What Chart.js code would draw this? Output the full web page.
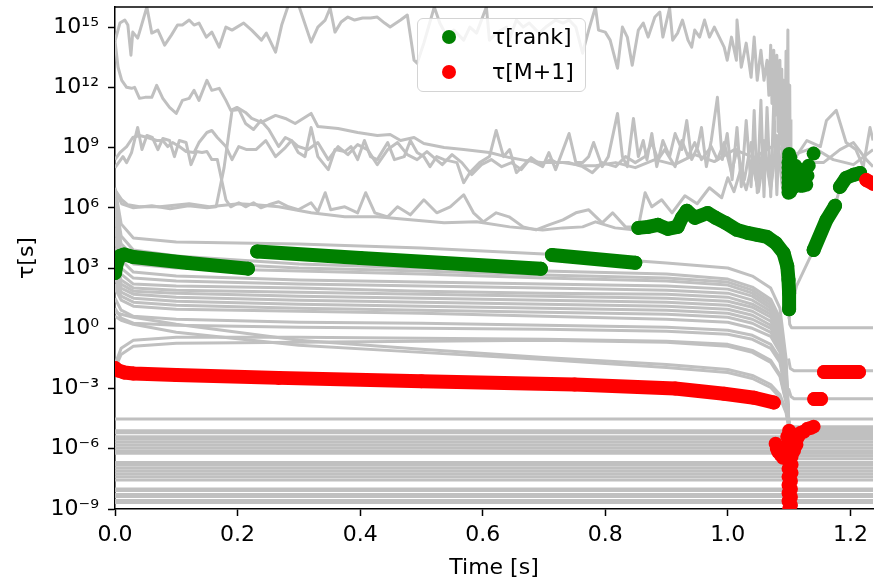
<!DOCTYPE html>
<html lang="en">
<head>
  <meta charset="UTF-8" />
  <title>Timescales vs time</title>
  <script src="https://cdn.jsdelivr.net/npm/chart.js"></script>
  <style>
    body {
      margin: 0;
      background: #fff;
      font-family: "DejaVu Sans", sans-serif;
    }
    #marco {
      position: relative;
      width: 880px;
      height: 579px;
    }
    #leyenda {
      position: absolute;
      left: 417px;
      top: 18px;
      width: 169px;
      height: 74px;
      box-sizing: border-box;
      border: 1px solid #d4d4d4;
      border-radius: 6px;
      background: rgba(255, 255, 255, 0.8);
    }
    .punto {
      position: absolute;
      left: 24px;
      width: 14px;
      height: 14px;
      border-radius: 50%;
    }
    .texto {
      position: absolute;
      left: 74px;
      font-size: 22px;
      line-height: 26px;
      color: #000;
      white-space: nowrap;
    }
  </style>
</head>
<body>
  <div id="marco">
    <canvas id="grafica" width="880" height="579"></canvas>
    <div id="leyenda">
      <span class="punto" style="top:11px;background:#008000"></span>
      <span class="texto" style="top:5px">τ[rank]</span>
      <span class="punto" style="top:46px;background:#ff0000"></span>
      <span class="texto" style="top:40px">τ[M+1]</span>
    </div>
  </div>

  <script>
    // every tau value below is stored as its exponent (log10 of tau in s)
    const xTicks = [0, 0.2, 0.4, 0.6, 0.8, 1.0, 1.2];
    const yTickExp = [-9, -6, -3, 0, 3, 6, 9, 12, 15];

    // smooth modes on a shared time grid, all collapse at t = 1.1
    const modeTime = [0, 0.01, 0.03, 0.1, 0.3, 0.5, 0.7, 0.9, 1.0, 1.04, 1.07, 1.085, 1.095, 1.1];
    const modeExp = [
      [7.0, 5.2, 4.5, 4.3, 4.2, 4.0, 3.7, 3.25, 3.0, 2.6, 2.0, 1.0, -1.5, -5.0],
      [6.5, 4.6, 3.9, 3.6, 3.2, 3.0, 2.85, 2.7, 2.45, 2.05, 1.45, 0.5, -1.8, -5.0],
      [6.0, 4.2, 3.6, 3.3, 3.0, 2.85, 2.65, 2.5, 2.3, 1.9, 1.3, 0.3, -2.0, -5.0],
      [5.5, 3.8, 3.2, 3.0, 2.85, 2.7, 2.5, 2.35, 2.15, 1.75, 1.15, 0.2, -2.1, -5.0],
      [5.0, 3.4, 2.8, 2.6, 2.4, 2.3, 2.2, 2.1, 1.95, 1.6, 1.0, 0.1, -2.2, -5.0],
      [4.5, 3.0, 2.5, 2.35, 2.2, 2.1, 2.0, 1.9, 1.75, 1.4, 0.85, -0.05, -2.3, -5.0],
      [4.0, 2.7, 2.2, 2.1, 2.0, 1.85, 1.75, 1.7, 1.55, 1.2, 0.7, -0.2, -2.4, -5.0],
      [3.5, 2.4, 2.0, 1.9, 1.8, 1.7, 1.6, 1.5, 1.35, 1.05, 0.55, -0.35, -2.5, -5.0],
      [3.0, 2.2, 1.85, 1.75, 1.6, 1.5, 1.4, 1.3, 1.15, 0.85, 0.35, -0.5, -2.6, -5.0],
      [2.8, 2.0, 1.7, 1.55, 1.4, 1.3, 1.2, 1.1, 0.95, 0.65, 0.15, -0.65, -2.7, -5.0],
      [2.5, 1.8, 1.5, 1.35, 1.2, 1.1, 1.0, 0.9, 0.75, 0.45, 0.0, -0.8, -2.8, -5.0],
      [2.2, 1.6, 1.3, 1.15, 1.0, 0.9, 0.8, 0.7, 0.55, 0.25, -0.2, -1.0, -2.9, -5.0],
      [2.0, 1.4, 1.1, 0.95, 0.85, 0.75, 0.6, 0.45, 0.3, 0.0, -0.4, -1.2, -3.0, -5.0],
      [1.5, 0.9, 0.6, 0.45, 0.3, 0.25, 0.15, 0.05, -0.1, -0.35, -0.8, -1.5, -3.2, -5.0],
      [1.0, 0.5, 0.25, 0.15, 0.05, 0.0, -0.05, -0.15, -0.3, -0.55, -1.0, -1.7, -3.3, -5.0],
      [0.8, 0.7, 0.55, 0.2, -0.6, -1.05, -1.45, -1.8, -2.05, -2.35, -2.8, -3.3, -4.1, -5.0],
      [0.6, 0.4, 0.2, -0.2, -0.85, -1.2, -1.55, -1.95, -2.2, -2.5, -2.95, -3.45, -4.2, -5.0],
      [-1.8, -1.0, -0.6, -0.45, -0.45, -0.5, -0.55, -0.65, -0.8, -1.1, -1.6, -2.3, -3.6, -5.0],
      [-2.0, -1.3, -0.9, -0.75, -0.7, -0.65, -0.6, -0.7, -0.9, -1.2, -1.7, -2.4, -3.7, -5.0]
    ];

    // fast modes, flat over the whole run
    const flatExp = [-4.52, -5.1, -5.2, -5.4, -5.5, -5.65, -5.8, -5.95, -6.1, -6.22, -6.68, -6.78,
                     -6.95, -7.1, -7.25, -7.4, -7.55, -8.0, -8.08, -8.28, -8.38, -8.58, -8.68];
    // extra flat modes that only exist after the jump at t = 1.1
    const lateFlatExp = [-4.9, -5.0, -5.3, -6.35, -6.5];

    // modes leaving the collapse at t = 1.1 to the right, [t, exponent]
    const lateOne = [[1.099, 1.0], [1.101, 0.2], [1.104, 0.03], [1.237, 0.03]];
    const lateTwo = [[1.099, -1.5], [1.102, -2.0], [1.108, -2.12], [1.237, -2.12]];
    const lateThree = [[1.099, -3.0], [1.103, -3.4], [1.108, -3.51], [1.237, -3.51]];

    // noisy slow modes, [t, exponent]
    const topTrace = [[0, 14.3], [0.008, 15.2], [0.016, 15.35], [0.021, 15.1], [0.026, 13.6], [0.029, 14.75],
      [0.037, 14.45], [0.040, 14.75], [0.052, 16.0], [0.060, 14.7], [0.070, 14.85], [0.081, 14.1], [0.092, 14.6],
      [0.102, 15.1], [0.110, 15.1], [0.121, 15.35], [0.129, 15.1], [0.137, 15.2], [0.149, 14.5], [0.158, 14.75],
      [0.170, 14.0], [0.181, 15.0], [0.191, 14.85], [0.210, 15.2], [0.223, 14.85], [0.239, 14.35], [0.247, 14.7],
      [0.262, 13.75], [0.272, 15.1], [0.283, 16.1], [0.299, 16.15], [0.320, 14.25], [0.331, 15.0], [0.343, 15.35],
      [0.351, 15.95], [0.359, 14.75], [0.369, 15.25], [0.380, 15.5], [0.391, 15.35], [0.404, 15.45], [0.417, 15.45],
      [0.428, 15.5], [0.440, 15.2], [0.449, 15.0], [0.466, 15.35], [0.477, 15.6], [0.488, 13.35], [0.493, 13.2],
      [0.504, 14.2], [0.521, 16.0], [0.530, 15.2], [0.542, 14.5], [0.553, 14.85], [0.569, 14.35], [0.579, 15.0],
      [0.590, 14.7], [0.606, 16.0], [0.611, 14.35], [0.622, 14.7], [0.639, 15.0], [0.643, 14.35], [0.655, 15.35],
      [0.666, 15.0], [0.676, 15.2], [0.692, 14.7], [0.703, 15.0], [0.719, 15.35], [0.731, 15.2], [0.741, 15.35],
      [0.752, 15.0], [0.763, 13.7], [0.773, 14.85], [0.784, 16.0], [0.789, 14.85], [0.800, 14.75], [0.808, 14.35],
      [0.820, 12.95], [0.828, 15.0], [0.836, 14.5], [0.844, 13.1], [0.854, 14.85], [0.862, 15.2], [0.870, 14.5],
      [0.881, 15.5], [0.889, 15.75], [0.894, 14.5], [0.905, 15.95], [0.910, 14.35], [0.918, 14.7], [0.926, 15.35],
      [0.935, 14.35], [0.941, 14.0], [0.946, 14.85], [0.954, 14.5], [0.962, 15.35], [0.970, 14.5], [0.978, 15.0],
      [0.986, 14.5], [0.994, 14.0], [0.999, 13.35], [1.006, 14.5], [1.014, 13.35], [1.015, 15.35], [1.022, 13.0],
      [1.030, 14.2], [1.038, 12.5], [1.043, 14.5], [1.048, 12.35], [1.054, 13.85], [1.059, 12.35], [1.064, 13.35],
      [1.067, 11.6], [1.070, 14.1], [1.072, 11.2], [1.075, 13.85], [1.077, 10.6], [1.080, 13.6], [1.082, 9.8],
      [1.085, 13.35], [1.087, 9.2], [1.088, 12.9], [1.090, 8.6], [1.091, 12.35], [1.093, 8.2], [1.095, 13.8],
      [1.096, 7.6], [1.098, 14.85], [1.099, 7.2], [1.101, 12.1], [1.102, 6.9], [1.103, 10.4]];

    const secondTrace = [[0, 14.3], [0.005, 13.0], [0.011, 12.35], [0.019, 12.0], [0.027, 11.95], [0.032, 12.0],
      [0.040, 11.45], [0.049, 11.5], [0.060, 11.5], [0.068, 12.1], [0.078, 11.45], [0.089, 11.0], [0.100, 10.7],
      [0.110, 11.35], [0.121, 11.45], [0.129, 11.85], [0.137, 11.35], [0.150, 12.35], [0.158, 11.85], [0.170, 11.95],
      [0.181, 11.35], [0.189, 10.85], [0.199, 11.0], [0.213, 10.75], [0.223, 10.45], [0.239, 10.25], [0.262, 10.6],
      [0.278, 10.45], [0.294, 10.2], [0.307, 10.45], [0.320, 10.7], [0.331, 10.05], [0.364, 9.95], [0.396, 9.75],
      [0.428, 9.6], [0.449, 9.65], [0.466, 9.35], [0.488, 9.5], [0.504, 9.2], [0.537, 9.0], [0.569, 8.9],
      [0.611, 8.75], [0.644, 8.5], [0.671, 8.35], [0.698, 8.25], [0.731, 8.25], [0.763, 8.1], [0.784, 8.1],
      [0.817, 8.25], [0.849, 8.0], [0.881, 8.4], [0.913, 8.15], [0.946, 8.65], [0.978, 8.3], [1.011, 8.9],
      [1.043, 8.5], [1.075, 9.1], [1.108, 8.65], [1.140, 9.0], [1.172, 8.4], [1.205, 8.15], [1.237, 8.9]];

    const dropTrace = [[0, 8.0], [0.013, 8.55], [0.019, 8.25], [0.027, 8.75], [0.037, 10.0], [0.044, 8.9],
      [0.052, 9.6], [0.061, 9.5], [0.070, 8.9], [0.078, 9.45], [0.089, 9.35], [0.097, 8.55], [0.105, 9.35],
      [0.116, 9.25], [0.124, 8.15], [0.133, 8.8], [0.142, 8.75], [0.150, 8.8], [0.158, 8.4], [0.167, 8.4],
      [0.175, 7.25], [0.181, 6.4], [0.189, 6.05], [0.202, 6.25], [0.213, 6.05], [0.226, 6.25], [0.238, 6.0],
      [0.251, 6.15], [0.267, 6.3], [0.283, 6.05], [0.299, 5.9], [0.320, 6.25], [0.331, 5.8], [0.343, 6.75],
      [0.352, 5.9], [0.375, 6.05], [0.396, 5.75], [0.409, 6.75], [0.424, 5.75], [0.445, 5.55], [0.461, 6.05],
      [0.482, 5.65], [0.504, 6.4], [0.525, 5.75], [0.547, 6.05], [0.569, 6.65], [0.585, 5.75], [0.601, 5.3],
      [0.622, 5.75], [0.643, 5.55], [0.666, 5.05], [0.687, 4.9], [0.708, 5.15], [0.731, 5.4], [0.752, 5.75],
      [0.773, 5.9], [0.795, 5.25], [0.812, 5.75], [0.833, 5.05], [0.854, 5.05], [0.865, 6.75], [0.876, 6.05],
      [0.892, 6.4], [0.909, 5.75], [0.930, 6.6], [0.950, 6.2], [0.970, 7.0], [0.990, 6.5], [1.000, 7.5],
      [1.010, 6.8], [1.020, 7.8], [1.030, 6.9], [1.040, 8.2], [1.050, 6.8], [1.060, 8.8], [1.070, 6.9],
      [1.080, 9.5], [1.090, 6.8], [1.100, 8.5]];

    const riseTrace = [[0, 6.9], [0.011, 6.2], [0.03, 6.0], [0.06, 6.1], [0.09, 5.95], [0.12, 6.1], [0.15, 6.0],
      [0.165, 6.05], [0.178, 8.0], [0.191, 10.85], [0.202, 10.9], [0.213, 10.2], [0.226, 9.9], [0.238, 10.35],
      [0.251, 9.9], [0.267, 9.05], [0.278, 9.5], [0.288, 9.35], [0.299, 8.75], [0.310, 8.55], [0.320, 10.0],
      [0.331, 8.55], [0.348, 7.9], [0.359, 8.9], [0.375, 8.8], [0.385, 9.05], [0.396, 8.4], [0.407, 9.35],
      [0.417, 8.55], [0.428, 8.4], [0.445, 9.25], [0.456, 8.4], [0.472, 8.55], [0.482, 9.35], [0.493, 8.75],
      [0.504, 8.55], [0.514, 8.05], [0.525, 8.55], [0.537, 8.4], [0.558, 8.25], [0.569, 7.25], [0.579, 7.75],
      [0.595, 8.25], [0.611, 8.55], [0.622, 9.85], [0.634, 8.55], [0.644, 8.9], [0.655, 7.75], [0.676, 8.4],
      [0.698, 8.05], [0.708, 8.75], [0.719, 7.9], [0.741, 9.7], [0.752, 8.25], [0.763, 8.25], [0.773, 8.55],
      [0.781, 9.25], [0.795, 8.05], [0.805, 8.55], [0.820, 10.7], [0.828, 8.55], [0.836, 8.05], [0.846, 10.45],
      [0.854, 8.55], [0.862, 9.35], [0.868, 8.4], [0.876, 9.7], [0.884, 8.05], [0.894, 9.35], [0.905, 8.55],
      [0.914, 9.7], [0.925, 8.9], [0.933, 10.35], [0.941, 8.4], [0.951, 9.05], [0.957, 10.0], [0.965, 8.05],
      [0.973, 9.35], [0.983, 11.5], [0.991, 8.4], [0.999, 9.7], [1.007, 7.4], [1.015, 10.0], [1.022, 7.05],
      [1.030, 10.35], [1.038, 7.05], [1.043, 10.85], [1.048, 6.75], [1.054, 11.35], [1.059, 6.55], [1.064, 11.0],
      [1.070, 6.55], [1.075, 11.35], [1.080, 6.65], [1.086, 11.1], [1.091, 6.75], [1.096, 10.85], [1.103, 6.9],
      [1.108, 8.4], [1.129, 9.35], [1.151, 9.05], [1.161, 10.35], [1.177, 10.85], [1.193, 9.25], [1.209, 8.9],
      [1.221, 8.05], [1.232, 10.0], [1.237, 9.35]];

    const midTrace = [[0, 8.4], [0.008, 8.75], [0.019, 9.05], [0.029, 9.5], [0.040, 9.6], [0.053, 9.5],
      [0.068, 9.35], [0.078, 9.35], [0.086, 9.05], [0.094, 9.25], [0.105, 9.05], [0.116, 8.8], [0.129, 8.75],
      [0.137, 9.25], [0.150, 9.75], [0.158, 9.85], [0.167, 9.5], [0.181, 9.05], [0.191, 8.4], [0.202, 9.05],
      [0.215, 8.9], [0.230, 8.9], [0.246, 9.35], [0.262, 8.55], [0.278, 9.0], [0.288, 9.35], [0.299, 9.05],
      [0.315, 8.9], [0.331, 9.25], [0.348, 8.4], [0.364, 9.05], [0.380, 8.65], [0.396, 9.15], [0.412, 8.9],
      [0.428, 8.15], [0.445, 8.9], [0.461, 9.25], [0.477, 8.65], [0.493, 8.4], [0.509, 8.8], [0.534, 8.15],
      [0.550, 8.65], [0.566, 8.25], [0.582, 7.65], [0.598, 8.15], [0.614, 8.4], [0.631, 8.05], [0.647, 8.25],
      [0.663, 7.9], [0.679, 8.5], [0.695, 8.15], [0.711, 8.4], [0.720, 8.25], [0.741, 8.25], [0.763, 8.05],
      [0.779, 7.75], [0.795, 8.25], [0.817, 8.05], [0.833, 8.55], [0.849, 8.25], [0.865, 8.55], [0.876, 9.25],
      [0.886, 8.4], [0.897, 8.9], [0.914, 8.05], [0.925, 9.35], [0.935, 8.55], [0.946, 9.25], [0.957, 8.4],
      [0.973, 9.05], [0.983, 8.4], [0.994, 9.25], [1.006, 7.75], [1.015, 8.9], [1.027, 7.4], [1.038, 9.25],
      [1.048, 7.05], [1.059, 9.35], [1.070, 7.05], [1.080, 9.6], [1.091, 6.9], [1.103, 8.9], [1.108, 7.75],
      [1.129, 8.25], [1.156, 8.25], [1.183, 8.9], [1.205, 9.25], [1.226, 8.4], [1.237, 8.05]];

    const rankTrace = [[0, 6.9], [0.011, 6.4], [0.021, 6.15], [0.04, 6.05], [0.073, 6.05], [0.121, 6.2],
      [0.154, 6.05], [0.202, 6.2], [0.23, 6.15], [0.267, 6.05], [0.32, 5.75], [0.375, 5.55], [0.428, 5.55],
      [0.482, 5.4], [0.537, 5.25], [0.59, 5.3], [0.644, 5.05], [0.698, 4.9], [0.731, 5.0], [0.763, 5.05],
      [0.784, 5.3], [0.816, 5.0], [0.849, 4.9], [0.87, 5.0], [0.9, 4.95], [0.925, 5.8], [0.946, 5.5],
      [0.967, 5.7], [0.98, 5.45], [0.996, 5.2], [1.015, 4.85], [1.032, 4.7], [1.048, 4.6], [1.064, 4.5],
      [1.078, 4.2], [1.091, 3.7], [1.098, 3.0], [1.1, 0.5], [1.112, 2.1], [1.14, 3.9], [1.161, 5.4],
      [1.175, 6.1], [1.183, 7.0], [1.193, 7.5], [1.216, 7.75], [1.226, 7.4], [1.237, 7.1]];

    // tau[rank], [t, exponent]
    const rankPart1 = [[0, 2.75], [0.003, 3.25], [0.008, 3.6], [0.015, 3.68], [0.03, 3.55], [0.12, 3.25], [0.217, 2.97]];
    const rankPart2 = [[0.232, 3.82], [0.40, 3.5], [0.695, 2.96]];
    const rankPart3 = [[0.713, 3.65], [0.849, 3.26]];
    const rankPart4 = [[0.854, 5.0], [0.870, 5.05], [0.886, 5.15], [0.902, 4.95], [0.918, 5.05], [0.925, 5.5],
      [0.933, 5.85], [0.946, 5.5], [0.967, 5.74], [0.980, 5.5], [0.996, 5.25], [1.015, 4.9], [1.032, 4.75],
      [1.048, 4.65], [1.064, 4.55], [1.078, 4.25], [1.091, 3.75], [1.097, 3.1], [1.099, 2.4], [1.100, 1.75], [1.100, 0.95]];
    const rankRise1 = [[1.140, 3.9], [1.161, 5.4], [1.175, 6.1]];
    const rankRise2 = [[1.183, 7.04], [1.193, 7.49], [1.205, 7.64], [1.216, 7.73]];
    const rankCluster = [[1.099, 6.75], [1.099, 7.0], [1.099, 7.25], [1.099, 7.5], [1.099, 7.75], [1.099, 8.0],
      [1.099, 8.25], [1.100, 8.5], [1.100, 8.68], [1.102, 6.8], [1.102, 7.4], [1.102, 8.0], [1.102, 8.5],
      [1.106, 7.0], [1.106, 7.5], [1.106, 8.0], [1.110, 7.1], [1.110, 7.6], [1.110, 8.1], [1.114, 7.2],
      [1.114, 7.7], [1.118, 7.1], [1.118, 7.5], [1.118, 7.9], [1.122, 7.1], [1.122, 7.45], [1.125, 7.8],
      [1.128, 7.15], [1.130, 7.6], [1.132, 8.1], [1.140, 8.7]];

    // tau[M+1], [t, exponent]
    const nextPart1 = [[0, -1.98], [0.005, -2.1], [0.015, -2.2], [0.03, -2.25], [0.1, -2.33], [0.267, -2.47],
      [0.5, -2.64], [0.75, -2.8], [0.914, -3.0], [0.994, -3.26], [1.043, -3.46], [1.075, -3.7]];
    const nextCluster = [[1.078, -5.75], [1.080, -6.0], [1.082, -6.15], [1.086, -6.3], [1.090, -6.45],
      [1.094, -5.9], [1.097, -5.4], [1.100, -5.1], [1.103, -5.4], [1.107, -5.3], [1.110, -5.6], [1.112, -5.8],
      [1.115, -5.4], [1.119, -5.2], [1.124, -5.15], [1.130, -5.0], [1.135, -4.97], [1.140, -4.9],
      [1.099, -5.8], [1.103, -6.0], [1.108, -6.1], [1.099, -6.3], [1.104, -6.4], [1.099, -6.6], [1.104, -6.8],
      [1.099, -7.0], [1.104, -7.2], [1.099, -7.4], [1.103, -7.6], [1.099, -7.8], [1.103, -8.0], [1.099, -8.2],
      [1.103, -8.4], [1.099, -8.6], [1.103, -8.8], [1.100, -9.0], [1.101, -9.2]];
    const nextStep1 = [[1.141, -3.52], [1.152, -3.52]];
    const nextStep2 = [[1.157, -2.18], [1.214, -2.18]];
    const nextTop = [[1.226, 7.38], [1.237, 7.2]];

    const xMax = 1.2369;
    const gris = '#c0c0c0';
    const verde = '#008000';
    const rojo = '#ff0000';
    const superDig = { '0': '⁰', '1': '¹', '2': '²', '3': '³', '4': '⁴', '5': '⁵', '6': '⁶', '7': '⁷', '8': '⁸', '9': '⁹', '-': '⁻' };

    function aPuntos(pares) {
      return pares.map(p => ({ x: p[0], y: Math.pow(10, p[1]) }));
    }

    function lineaGris(pares) {
      return {
        data: aPuntos(pares), borderColor: gris, borderWidth: 3, borderJoinStyle: 'round',
        pointRadius: 0, order: 2, clip: 0
      };
    }

    function banda(pares, color, orden, conLinea) {
      return {
        data: aPuntos(pares), borderColor: color, backgroundColor: color, borderWidth: 14,
        borderCapStyle: 'round', borderJoinStyle: 'round', showLine: conLinea,
        pointRadius: 7, pointBorderWidth: 0, pointBackgroundColor: color, order: orden, clip: 0
      };
    }

    function superIndice(n) {
      return String(n).split('').map(c => superDig[c]).join('');
    }

    // chart.js reserves half a label at each end of an axis; the reference does not
    function sinRelleno(s) {
      s.paddingTop = 0;
      s.paddingBottom = 0;
      s.paddingLeft = 0;
      s.paddingRight = 0;
    }

    const datasets = [];
    [nextPart1, nextStep1, nextStep2, nextTop].forEach(p => datasets.push(banda(p, rojo, 0, true)));
    datasets.push(banda(nextCluster, rojo, 0, false));
    [rankPart1, rankPart2, rankPart3, rankPart4, rankRise1, rankRise2].forEach(p => datasets.push(banda(p, verde, 1, true)));
    datasets.push(banda(rankCluster, verde, 1, false));

    [topTrace, secondTrace, dropTrace, riseTrace, midTrace, rankTrace, lateOne, lateTwo, lateThree]
      .forEach(p => datasets.push(lineaGris(p)));
    modeExp.forEach(fila => datasets.push(lineaGris(modeTime.map((t, i) => [t, fila[i]]))));
    flatExp.forEach(e => datasets.push(lineaGris([[0, e], [xMax, e]])));
    lateFlatExp.forEach(e => datasets.push(lineaGris([[1.1, e], [xMax, e]])));

    const bordeSuperior = {
      id: 'bordeSuperior',
      afterDraw(chart) {
        const { ctx, chartArea } = chart;
        ctx.save();
        ctx.strokeStyle = '#000';
        ctx.lineWidth = 1.5;
        ctx.beginPath();
        ctx.moveTo(chartArea.left, chartArea.top);
        ctx.lineTo(chartArea.right, chartArea.top);
        ctx.stroke();
        ctx.restore();
      }
    };

    Chart.defaults.font.family = "'DejaVu Sans', sans-serif";
    Chart.defaults.font.size = 22;
    Chart.defaults.color = '#000';

    new Chart(document.getElementById('grafica'), {
      type: 'line',
      data: { datasets: datasets },
      plugins: [bordeSuperior],
      options: {
        responsive: false,
        animation: false,
        events: [],
        layout: { padding: { top: 7, right: 0, bottom: 0, left: 0 } },
        plugins: { legend: { display: false }, tooltip: { enabled: false } },
        scales: {
          x: {
            type: 'linear',
            min: 0,
            max: xMax,
            afterBuildTicks: s => { s.ticks = xTicks.map(v => ({ value: v })); },
            afterFit: s => { s.height = 70; sinRelleno(s); },
            ticks: { callback: v => v.toFixed(1), padding: 6, maxRotation: 0, color: '#000' },
            grid: { drawOnChartArea: false, tickLength: 7, tickWidth: 1.5, tickColor: '#000' },
            border: { color: '#000', width: 1.5 },
            title: {
              display: true, text: 'Time [s]', color: '#000',
              font: { size: 22, lineHeight: 1.0 }, padding: { top: 0, bottom: 0 }
            }
          },
          y: {
            type: 'logarithmic',
            min: 1e-9,
            max: 1e16,
            afterBuildTicks: s => { s.ticks = yTickExp.map(e => ({ value: Math.pow(10, e) })); },
            afterFit: s => { s.width = 115; sinRelleno(s); },
            ticks: { callback: v => '10' + superIndice(Math.round(Math.log10(v))), padding: 9, color: '#000' },
            grid: { drawOnChartArea: false, tickLength: 7, tickWidth: 1.5, tickColor: '#000' },
            border: { color: '#000', width: 1.5 },
            title: {
              display: true, text: 'τ[s]', color: '#000',
              font: { size: 22, lineHeight: 1.0 }, padding: { top: 16, bottom: 0 }
            }
          }
        }
      }
    });
  </script>
</body>
</html>
